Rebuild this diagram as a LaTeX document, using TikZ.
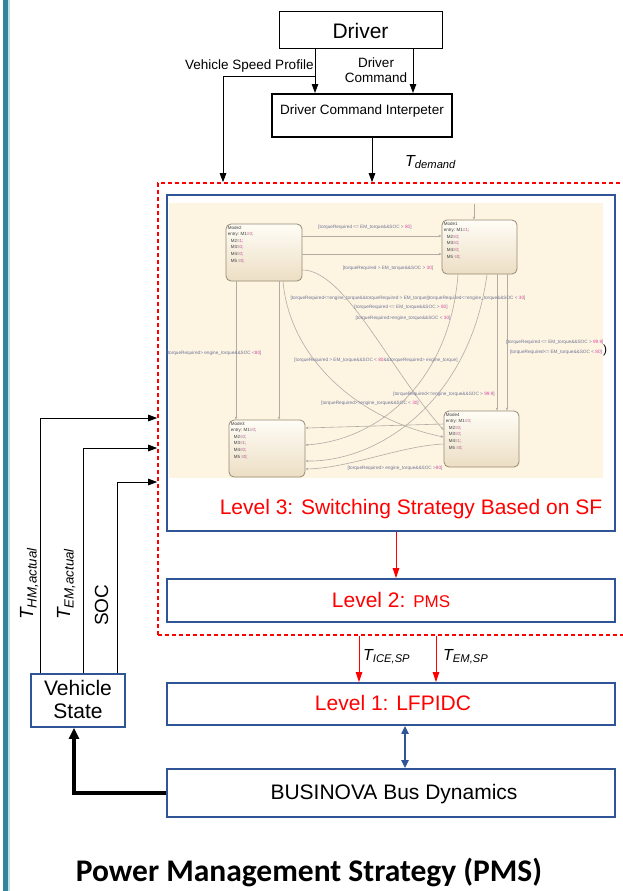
\documentclass[tikz,border=0pt]{standalone}
\usepackage{fontspec}
\setmainfont{Liberation Sans}
\newfontfamily\headfont{Carlito}
\usetikzlibrary{arrows.meta,fit,calc}

\definecolor{boxblue}{RGB}{47,85,151}
\definecolor{barteal}{RGB}{49,134,158}
\definecolor{barlight}{RGB}{196,222,232}
\definecolor{sfcream}{RGB}{253,244,226}
\definecolor{sfline}{RGB}{178,172,165}
\definecolor{sftext}{RGB}{112,118,152}
\definecolor{sfnum}{RGB}{222,70,165}
\definecolor{sfedge}{RGB}{150,138,115}
\definecolor{sftop}{RGB}{255,253,246}
\definecolor{sfbot}{RGB}{236,222,196}

\newcommand{\nm}[1]{\textcolor{sfnum}{#1}}
\newcommand{\ind}{\hspace*{3pt}}

\begin{document}
\begin{tikzpicture}[x=1pt,y=-1pt,
  bluebox/.style={draw=boxblue, line width=1.8pt, inner sep=0pt},
  thinbox/.style={draw=black, line width=1pt, inner sep=0pt},
  thickbox/.style={draw=black, line width=2pt, inner sep=0pt},
  pmsframe/.style={draw=red, line width=1.6pt, dash pattern=on 4pt off 3pt, inner sep=0pt},
  modebox/.style={draw=sfedge, line width=0.8pt, rounded corners=5pt, top color=sftop, bottom color=sfbot, inner sep=0pt},
  blkarr/.style={line width=0.9pt, -{Triangle[length=9pt,width=6.5pt]}},
  redarr/.style={draw=red, line width=1pt, -{Triangle[length=10pt,width=6.5pt]}},
  duoarr/.style={draw=boxblue, line width=2pt, {Triangle[length=8pt,width=7pt]}-{Triangle[length=8pt,width=7pt]}},
  busarr/.style={line width=4pt, -{Triangle[length=11pt,width=10pt]}},
  sfarr/.style={draw=sfline, line width=0.6pt, -{Stealth[length=3pt,width=2.5pt]}},
  big/.style={font=\fontsize{21}{24}\selectfont, inner sep=0pt, anchor=base},
  small/.style={font=\fontsize{13.5}{15}\selectfont, inner sep=0pt},
  sig/.style={font=\fontsize{16}{18}\selectfont\itshape, inner sep=0pt},
  sigr/.style={font=\fontsize{19}{22}\selectfont\itshape, inner sep=0pt, rotate=90, anchor=base west},
  sflbl/.style={font=\fontsize{4.7}{5}\selectfont, text=sftext, inner sep=0pt},
  sfmode/.style={font=\fontsize{4.5}{6.6}\selectfont, text=black!75, inner sep=0pt, align=left, anchor=north west},
]
% page and side bar
\fill[white] (0,0) rectangle (623,891);
\useasboundingbox (0,0) rectangle (623,891);
\fill[barteal] (3,0) rectangle (8,891);
\fill[barlight] (8,0) rectangle (10,891);

% driver side
\node[thinbox, fit={(279,12) (442,49)}] (drv) {};
\node[big] at (drv.center |- 0,38) {Driver};
\node[thickbox, fit={(272,94) (452,137)}] (dci) {};
\node[small, anchor=base] at (362,114) {Driver Command Interpeter};

% strategy levels
\node[bluebox, fit={(167,195) (615,531)}] (l3) {};
\fill[sfcream] (169,203) rectangle (603,478);
\node[big, text=red] at (411,514) {Level 3: Switching Strategy Based on SF};
\node[bluebox, fit={(167,579) (615,622)}] (l2) {};
\node[big, text=red] at (391,607) {Level 2: {\fontsize{17}{20}\selectfont PMS}};
\node[pmsframe, fit={(158,183) (660,635)}] (pms) {};
\node[bluebox, fit={(167,683) (615,725)}] (l1) {};
\node[big, text=red] at (393,710) {Level 1: LFPIDC};
\node[bluebox, fit={(167,769) (615,817)}] (bus) {};
\node[big] at (394,799) {BUSINOVA Bus Dynamics};
\node[bluebox, fit={(31,674) (125,727)}] (vs) {};
\node[big] at (78,695) {Vehicle};
\node[big] at (78,718) {State};

% Stateflow chart: modes
\node[modebox, fit={(226,224) (302,281)}] (m2) {};
\node[modebox, fit={(442,220) (517,274)}] (m1) {};
\node[modebox, fit={(229,420) (305,477)}] (m3) {};
\node[modebox, fit={(444,411) (519,467)}] (m4) {};
\node[sfmode] at ($(m2.north west)+(2,2)$) {Mode2\\entry: M1=\nm{0};\\\ind M2=\nm{1};\\\ind M3=\nm{0};\\\ind M4=\nm{0};\\\ind M5 =\nm{0};};
\node[sfmode] at ($(m1.north west)+(2,2)$) {Mode1\\entry: M1=\nm{1};\\\ind M2=\nm{0};\\\ind M3=\nm{0};\\\ind M4=\nm{0};\\\ind M5 =\nm{0};};
\node[sfmode] at ($(m3.north west)+(2,2)$) {Mode3\\entry: M1=\nm{0};\\\ind M2=\nm{0};\\\ind M3=\nm{1};\\\ind M4=\nm{0};\\\ind M5 =\nm{0};};
\node[sfmode] at ($(m4.north west)+(2,2)$) {Mode4\\entry: M1=\nm{0};\\\ind M2=\nm{0};\\\ind M3=\nm{0};\\\ind M4=\nm{1};\\\ind M5 =\nm{0};};

% Stateflow chart: transitions
\coordinate (m1init) at (474,204);
\draw[sfarr] (m1init) -- (m1.north -| m1init);
\draw[sfarr] (m2.east |- 0,236) -- (m1.west |- 0,236);
\draw[sfarr] (m2.east |- 0,254) -- (m1.west |- 0,254);
\draw[sfarr] (m2.south -| 236,0) -- (m3.north -| 236,0);
\draw[sfarr] (m2.south -| 279,0) -- (m3.north -| 279,0);
\draw[sfarr] (m1.south -| 497,0) -- (m4.north -| 497,0);
\draw[sfarr] (m1.south -| 507,0) -- (m4.north -| 507,0);
\draw[sfarr] (m1.south -| 458,0) .. controls (450,380) and (380,440) .. (m3.east |- 0,445);
\draw[sfarr] (m1.south -| 487,0) .. controls (470,400) and (380,462) .. (m3.east |- 0,461);
\draw[sfarr] (m2.east |- 0,270) .. controls (345,270) and (390,370) .. (m4.west |- 0,430);
\draw[sfarr] (m2.south -| 283,0) .. controls (290,360) and (360,420) .. (m4.west |- 0,437);
\draw[sfarr] (m4.west |- 0,424) -- (m3.east |- 0,428);
\draw[sfarr] (m4.west |- 0,444) .. controls (400,446) and (350,468) .. (m3.east |- 0,469);

% Stateflow chart: guards
\node[sflbl] at (365,227) {[torqueRequired <= EM\_torque\&\&SOC > \nm{80}]};
\node[sflbl] at (388,268) {[torqueRequired > EM\_torque\&\&SOC > \nm{30}]};
\node[sflbl] at (408,298) {[torqueRequired<=engine\_torque\&\&torqueRequired > EM\_torque||torqueRequired<=engine\_torque\&\&SOC < \nm{30}]};
\node[sflbl] at (401,307) {[torqueRequired <= EM\_torque\&\&SOC > \nm{80}]};
\node[sflbl] at (403,318) {[torqueRequired>engine\_torque\&\&SOC < \nm{30}]};
\node[sflbl] at (214,353) {[torqueRequired> engine\_torque\&\&SOC <\nm{80}]};
\node[sflbl] at (376,360) {[torqueRequired > EM\_torque\&\&SOC < \nm{80}\&\&torqueRequired> engine\_torque]};
\node[sflbl] at (555,342) {[torqueRequired <= EM\_torque\&\&SOC > \nm{99.9}]};
\node[sflbl] at (556,352) {[torqueRequired<= EM\_torque\&\&SOC < \nm{80}]};
\node[sflbl] at (444,394) {[torqueRequired<=engine\_torque\&\&SOC > \nm{99.9}]};
\node[sflbl] at (370,403) {[torqueRequired>=engine\_torque\&\&SOC < \nm{30}]};
\node[sflbl] at (395,468) {[torqueRequired> engine\_torque\&\&SOC >\nm{80}]};
\node[font=\fontsize{12}{12}\selectfont, inner sep=0pt] at (605,350) {)};

% driver signals
\coordinate (vsp) at (315,76);
\draw[blkarr] (drv.south -| vsp) -- (dci.north -| vsp);
\draw[blkarr] (drv.south -| 413,0) -- (dci.north -| 413,0);
\draw[blkarr] (vsp) -| (pms.north -| 223,0);
\draw[blkarr] (dci.south -| 372,0) -- (pms.north -| 372,0);
\node[small, anchor=base west] at (185,70) {Vehicle Speed Profile};
\node[small, anchor=base] at (376,67) {Driver};
\node[small, anchor=base] at (376,82) {Command};
\node[sig, anchor=base west] at (405,166) {T\textsubscript{demand}};

% feedback from vehicle state
\draw[blkarr] (vs.north -| 40,0) |- (pms.west |- 0,418);
\draw[blkarr] (vs.north -| 83,0) |- (pms.west |- 0,448);
\draw[blkarr] (vs.north -| 117,0) |- (pms.west |- 0,482);
\node[sigr] at (33,620) {T\textsubscript{HM,actual}};
\node[sigr] at (70,620) {T\textsubscript{EM,actual}};
\node[font=\fontsize{19}{22}\selectfont, inner sep=0pt, rotate=90, anchor=base west] at (108,626) {SOC};

% level links
\draw[redarr] (l3.south -| 396,0) -- (l2.north -| 396,0);
\draw[redarr] (pms.south -| 359,0) -- (l1.north -| 359,0);
\draw[redarr] (pms.south -| 436,0) -- (l1.north -| 436,0);
\node[sig, anchor=base west] at (363,660) {T\textsubscript{ICE,SP}};
\node[sig, anchor=base west] at (443,660) {T\textsubscript{EM,SP}};
\draw[duoarr] (l1.south -| 405,0) -- (bus.north -| 405,0);
\draw[busarr] (bus.west) -| (vs.south -| 74,0);

% title
\node[font=\headfont\bfseries\fontsize{31.5}{36}\selectfont, anchor=base] at (309,881) {Power Management Strategy (PMS)};
\end{tikzpicture}
\end{document}
